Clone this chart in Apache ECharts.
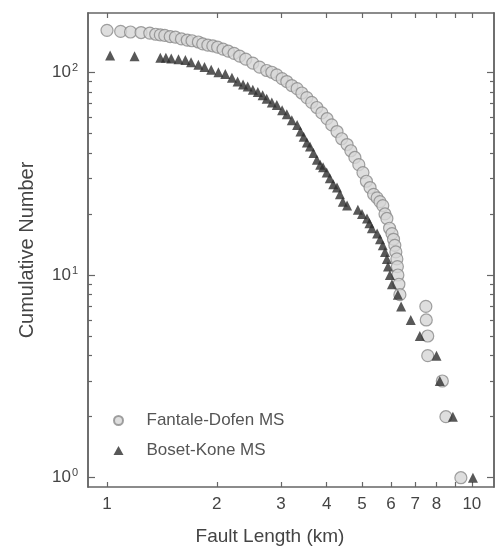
<!DOCTYPE html>
<html>
<head>
<meta charset="utf-8">
<script src="https://cdn.jsdelivr.net/npm/echarts@6/dist/echarts.min.js"></script>
<style>
    html, body { margin: 0; padding: 0; background: #fff; }
    #chart { width: 498px; height: 551px; }
</style>
</head>
<body>
<div id="chart"></div>
<script>
// Fantale-Dofen MS (circles): fault length km, cumulative number
let fantaleLength = [1.00, 1.09, 1.16, 1.24, 1.31, 1.36, 1.40, 1.44, 1.49, 1.54, 1.60, 1.66, 1.71, 1.78, 1.83,
    1.89, 1.95, 2.01, 2.08, 2.15, 2.23, 2.31, 2.40, 2.51, 2.62, 2.74, 2.83, 2.92, 3.02, 3.11, 3.21, 3.32, 3.42,
    3.53, 3.64, 3.76, 3.88, 4.01, 4.13, 4.27, 4.40, 4.55, 4.66, 4.78, 4.90, 5.03, 5.14, 5.26, 5.38, 5.50, 5.60,
    5.70, 5.78, 5.85, 5.95, 6.04, 6.10, 6.15, 6.19, 6.23, 6.25, 6.27, 6.31, 6.35, 7.48, 7.50, 7.57, 7.57, 8.30,
    8.49, 9.33]
let fantaleCount = [161, 159, 158, 157, 156, 154, 153, 152, 150, 149, 146, 144, 143, 141, 138,
    136, 135, 133, 130, 127, 124, 120, 116, 111, 106, 102, 100, 97, 93, 90, 86, 83, 79,
    75, 71, 67, 63, 59, 55, 51, 47, 44, 41, 38, 35, 32, 29, 27, 25, 24, 23,
    22, 20, 19, 17, 16, 15, 14, 13, 12, 11, 10, 9, 8, 7, 6, 5, 4, 3,
    2, 1]
// Boset-Kone MS (triangles)
let bosetLength = [1.02, 1.19, 1.40, 1.45, 1.50, 1.57, 1.64, 1.70, 1.78, 1.85, 1.93, 2.02, 2.11, 2.20, 2.28,
    2.36, 2.43, 2.51, 2.59, 2.67, 2.74, 2.83, 2.92, 3.02, 3.11, 3.21, 3.32, 3.39, 3.46, 3.53, 3.60, 3.68, 3.76,
    3.84, 3.91, 4.00, 4.08, 4.17, 4.27, 4.35, 4.43, 4.55, 4.87, 5.00, 5.16, 5.24, 5.32, 5.50, 5.60, 5.70, 5.78,
    5.85, 5.89, 5.96, 6.04, 6.27, 6.40, 6.80, 7.20, 8.00, 8.17, 8.87, 10.07]
let bosetCount = [121, 120, 118, 118, 117, 116, 115, 112, 109, 106, 103, 100, 98, 94, 90,
    87, 85, 82, 80, 77, 74, 71, 69, 65, 62, 58, 55, 51, 48, 45, 43, 40, 37,
    35, 34, 32, 30, 28, 27, 25, 23, 22, 21, 20, 19, 18, 17, 16, 15, 14, 13,
    12, 11, 10, 9, 8, 7, 6, 5, 4, 3, 2, 1]

let xTicks = [1, 2, 3, 4, 5, 6, 7, 8, 9, 10]
let xLabels = [1, 2, 3, 4, 5, 6, 7, 8, 10]
let yMajor = [1, 10, 100]
let yMinor = [2, 3, 4, 5, 6, 7, 8, 9, 20, 30, 40, 50, 60, 70, 80, 90]

let xRange = [0.887, 11.5]
let yRange = [0.90, 196]

let font = 'Liberation Sans, Arial, sans-serif'
let frameColor = '#666'
let textColor = '#444'

function pairs (xs, ys) {
    return xs.map((x, i) => [x, ys[i]])
}

function xAxisOf (pos, withLabel) {
    return {
        type: 'log',
        position: pos,
        min: xRange[0],
        max: xRange[1],
        name: withLabel ? 'Fault Length (km)' : '',
        nameLocation: 'middle',
        nameGap: 40,
        nameTextStyle: { fontFamily: font, fontSize: 19, color: textColor, padding: [0, 42, 0, 0] },
        axisLine: { show: true, lineStyle: { color: frameColor, width: 1.5 } },
        axisTick: { show: true, inside: true, length: 5, customValues: xTicks, lineStyle: { color: frameColor, width: 1.2 } },
        axisLabel: { show: withLabel, customValues: xLabels, margin: 9, fontFamily: font, fontSize: 17, color: textColor },
        splitLine: { show: false },
        minorTick: { show: false }
    }
}

function yAxisOf (pos, major, withLabel) {
    return {
        type: 'log',
        position: pos,
        min: yRange[0],
        max: yRange[1],
        name: withLabel ? 'Cumulative Number' : '',
        nameLocation: 'middle',
        nameGap: 51,
        nameTextStyle: { fontFamily: font, fontSize: 20, color: textColor },
        axisLine: { show: true, lineStyle: { color: frameColor, width: 1.5 } },
        axisTick: {
            show: true, inside: true, length: major ? 7 : 4,
            customValues: major ? yMajor : yMinor,
            lineStyle: { color: frameColor, width: 1.2 }
        },
        axisLabel: {
            show: withLabel,
            customValues: yMajor,
            margin: 10,
            formatter: function (v) {
                return '{b|10}{s|' + Math.round(Math.log10(v)) + '}'
            },
            rich: {
                b: { fontFamily: font, fontSize: 17, color: textColor },
                s: { fontFamily: font, fontSize: 11, color: textColor, verticalAlign: 'top', padding: [0, 0, 9, 1] }
            }
        },
        splitLine: { show: false },
        minorTick: { show: false }
    }
}

let myChart = echarts.init(document.getElementById('chart'))
let option = {
    backgroundColor: '#fff',
    animation: false,
    grid: { left: 88, right: 4, top: 13, bottom: 64 },
    legend: {
        orient: 'vertical',
        left: 108,
        top: 407,
        itemWidth: 10,
        itemHeight: 9,
        itemGap: 13,
        textStyle: { fontFamily: font, fontSize: 17, color: '#555', padding: [0, 0, 0, 18] },
        data: [
            { name: 'Fantale-Dofen MS' },
            { name: 'Boset-Kone MS', itemStyle: { color: '#2e2e2e' } }
        ]
    },
    xAxis: [xAxisOf('bottom', true), xAxisOf('top', false)],
    yAxis: [
        yAxisOf('left', true, true),
        yAxisOf('left', false, false),
        yAxisOf('right', true, false),
        yAxisOf('right', false, false)
    ],
    series: [
        {
            name: 'Fantale-Dofen MS',
            type: 'scatter',
            symbol: 'circle',
            symbolSize: 12,
            itemStyle: { color: '#d6d6d6', borderColor: '#8a8a8a', borderWidth: 1.2 },
            data: pairs(fantaleLength, fantaleCount)
        },
        {
            name: 'Boset-Kone MS',
            type: 'scatter',
            symbol: 'triangle',
            symbolSize: 10,
            itemStyle: { color: '#2e2e2e' },
            data: pairs(bosetLength, bosetCount)
        }
    ]
}
myChart.setOption(option)
</script>
</body>
</html>
